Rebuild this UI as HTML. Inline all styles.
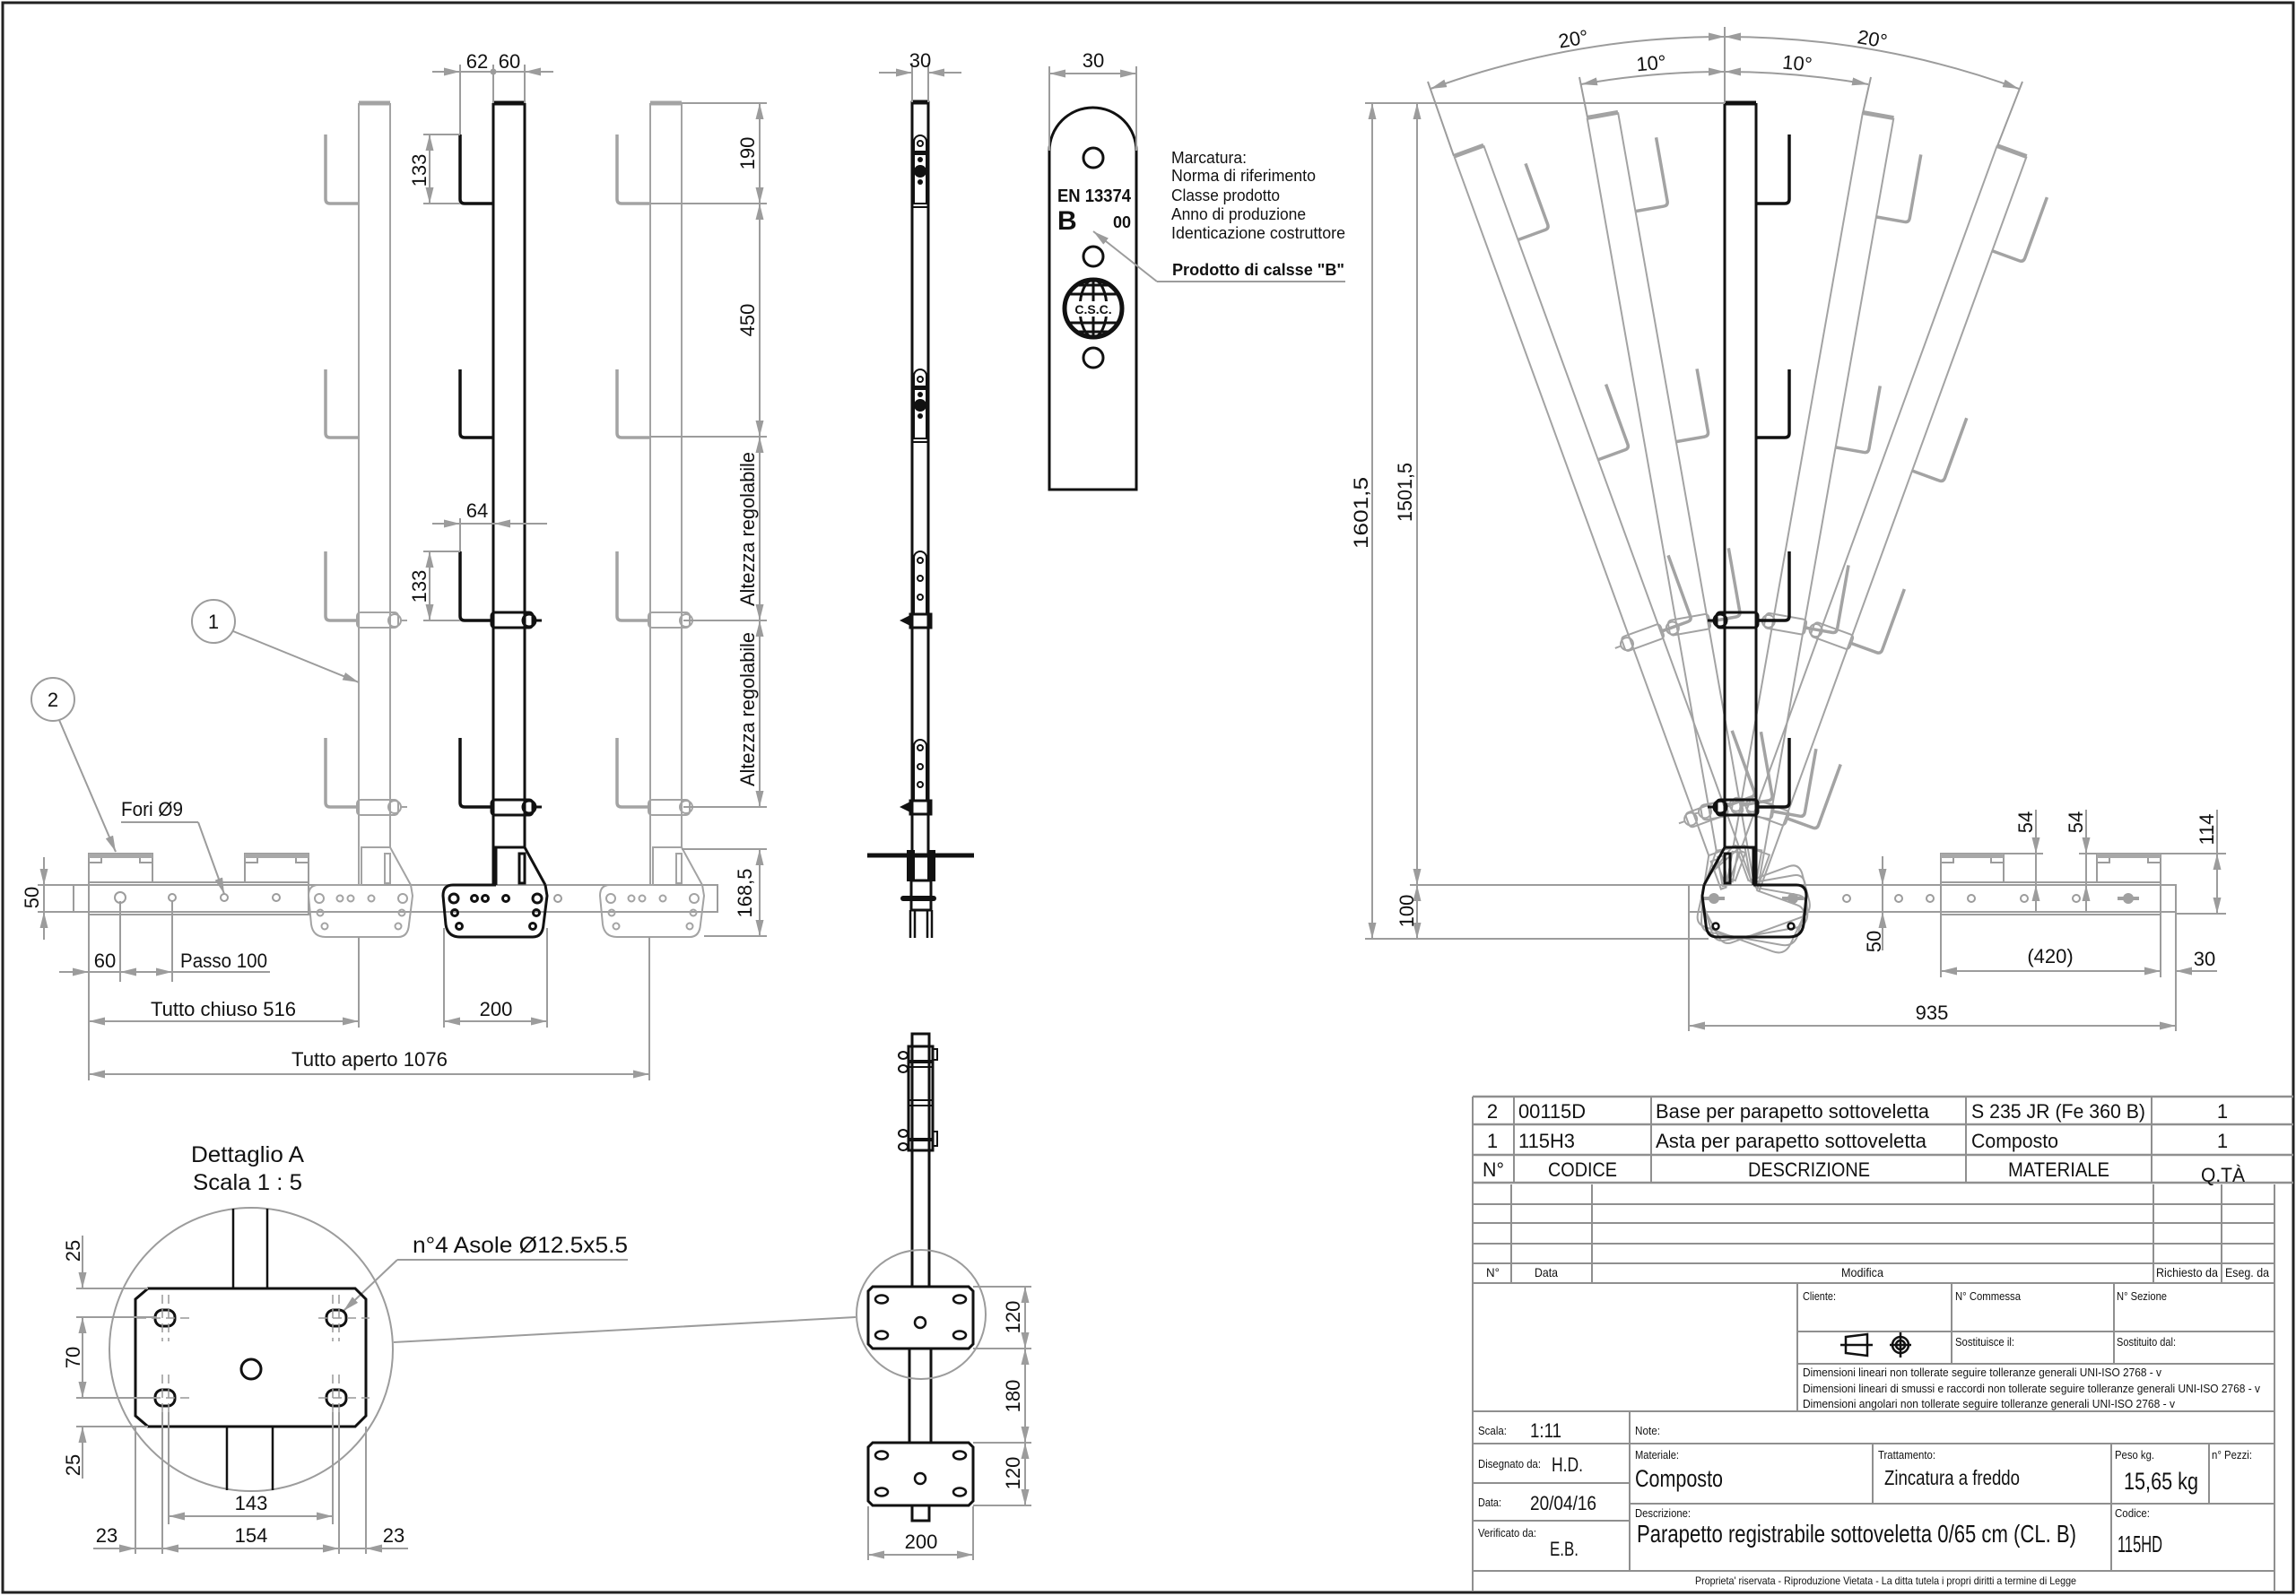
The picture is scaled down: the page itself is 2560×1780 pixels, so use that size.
<!DOCTYPE html>
<html><head><meta charset="utf-8">
<style>
html,body{margin:0;padding:0;background:#fff}
svg{display:block}
text{font-family:"Liberation Sans",Arial,sans-serif;fill:#111}
.d{stroke:#9c9c9c;stroke-width:2;fill:none}
.da{stroke:#9c9c9c;stroke-width:2;fill:none;marker-end:url(#ar)}
.dd{stroke:#9c9c9c;stroke-width:2;fill:none;marker-start:url(#ar);marker-end:url(#ar)}
.k{stroke:#111;stroke-width:3;fill:none}
.tb{stroke:#8f8f8f;stroke-width:2;fill:none}
.s{font-size:13px}
</style></head>
<body>
<svg width="2560" height="1780" viewBox="0 0 2560 1780" xmlns="http://www.w3.org/2000/svg">
<defs>
<marker id="ar" viewBox="0 0 18 9" refX="18" refY="4.5" markerWidth="18" markerHeight="9" markerUnits="userSpaceOnUse" orient="auto-start-reverse"><path d="M0 0L18 4.5L0 9z" fill="#9c9c9c"/></marker>
<g id="unit">
<path d="M0 115V988M35 115V945"/>
<path d="M0 115H35" stroke-width="5"/>
<path d="M3 987V945H35L58 987"/>
<rect x="29" y="952" width="6" height="33"/>
<path d="M3 987H-45Q-56 987 -56 999L-53 1031Q-51 1045 -37 1045H44Q55 1045 56 1031L60 999L58 987"/>
<path d="M-37 150V222Q-37 227 -32 227H0M-37 412V483Q-37 488 -32 488H0M-37 615V687Q-37 692 -32 692H0M-37 823V895Q-37 900 -32 900H0" stroke-width="3.5"/>
<rect x="-2" y="683" width="46" height="17" rx="4"/><circle cx="40" cy="692" r="7"/><path d="M47 692H54"/>
<rect x="-2" y="892" width="46" height="17" rx="4"/><circle cx="40" cy="900" r="7"/><path d="M47 900H54"/>
</g>
<g id="holes">
<circle cx="-44" cy="1002" r="5"/><circle cx="-21" cy="1002" r="3.5"/><circle cx="-9" cy="1002" r="3.5"/><circle cx="14" cy="1002" r="3.5"/><circle cx="49" cy="1002" r="5"/>
<circle cx="-43" cy="1018" r="3.5"/><circle cx="48" cy="1018" r="3.5"/><circle cx="-38" cy="1033" r="3.5"/><circle cx="44" cy="1033" r="3.5"/>
</g>
</defs>

<rect x="3" y="3" width="2554" height="1773" fill="none" stroke="#222" stroke-width="3"/>

<!-- LEFT FRONT VIEW -->
<g class="d">
<rect x="82" y="987" width="718" height="30"/>
<rect x="99" y="984" width="245" height="36"/>
<rect x="99" y="952" width="71" height="32"/>
<rect x="273" y="952" width="71" height="32"/>
<path d="M99 962H113V957M170 962H156V957M273 962H287V957M344 962H330V957"/>
<circle cx="134" cy="1001" r="6"/><circle cx="192" cy="1001" r="4"/><circle cx="250" cy="1001" r="4"/><circle cx="308" cy="1001" r="4"/>
<circle cx="622" cy="1002" r="4"/>
</g>
<rect x="99" y="952" width="71" height="5" fill="#a8a8a8"/>
<rect x="273" y="952" width="71" height="5" fill="#a8a8a8"/>
<g stroke="#a3a3a3" stroke-width="2" fill="none">
<use href="#unit" x="400"/><use href="#holes" x="400"/>
<use href="#unit" x="725"/><use href="#holes" x="725"/>
</g>
<g stroke="#111" stroke-width="3" fill="none">
<use href="#unit" x="550"/><use href="#holes" x="550"/>
</g>

<g class="d">
<path d="M513 72V150M550 72V115M585 72V115M513 578V615M472 150H513M472 227H513M472 615H513M472 692H513"/>
<path d="M513 80H585M513 584H551"/>
<path d="M760 115H855M725 227H855M725 487H855M762 692H855M762 900H855M760 947H855M785 1044H855"/>
<path d="M42 987H82M42 1017H82M49 956V1048"/>
<path d="M99 1017V1205M134 1005V1095M192 1005V1095M400 1045V1146M495 1035V1146M610 1035V1146M724 1045V1205"/>
<path d="M66 1084H301"/>
</g>
<circle cx="550" cy="80" r="3.5" fill="#9c9c9c"/>
<line x1="482" y1="80" x2="513" y2="80" class="da"/>
<line x1="617" y1="80" x2="585" y2="80" class="da"/>
<line x1="482" y1="584" x2="513" y2="584" class="da"/>
<line x1="610" y1="584" x2="551" y2="584" class="da"/>
<line x1="479" y1="150" x2="479" y2="227" class="dd"/>
<line x1="479" y1="615" x2="479" y2="692" class="dd"/>
<line x1="847" y1="115" x2="847" y2="227" class="dd"/>
<line x1="847" y1="227" x2="847" y2="487" class="dd"/>
<line x1="847" y1="487" x2="847" y2="692" class="dd"/>
<line x1="847" y1="692" x2="847" y2="900" class="dd"/>
<line x1="847" y1="947" x2="847" y2="1044" class="dd"/>
<line x1="49" y1="956" x2="49" y2="987" class="da"/>
<line x1="49" y1="1048" x2="49" y2="1017" class="da"/>
<line x1="66" y1="1084" x2="99" y2="1084" class="da"/>
<line x1="170" y1="1084" x2="134" y2="1084" class="da"/>
<line x1="160" y1="1084" x2="192" y2="1084" class="da"/>
<line x1="99" y1="1139" x2="400" y2="1139" class="dd"/>
<line x1="495" y1="1139" x2="610" y2="1139" class="dd"/>
<line x1="99" y1="1198" x2="724" y2="1198" class="dd"/>
<circle cx="238" cy="693" r="24" class="d"/>
<circle cx="59" cy="780" r="24" class="d"/>
<line x1="260" y1="704" x2="400" y2="761" class="da"/>
<line x1="66" y1="803" x2="129" y2="950" class="da"/>
<path d="M135 917H221" class="d"/>
<line x1="221" y1="917" x2="250" y2="997" class="da"/>

<g font-size="22">
<text x="532" y="76" text-anchor="middle">62</text>
<text x="568" y="76" text-anchor="middle">60</text>
<text x="532" y="577" text-anchor="middle">64</text>
<text transform="translate(475 190) rotate(-90)" text-anchor="middle">133</text>
<text transform="translate(475 654) rotate(-90)" text-anchor="middle">133</text>
<text transform="translate(841 171) rotate(-90)" text-anchor="middle">190</text>
<text transform="translate(841 357) rotate(-90)" text-anchor="middle">450</text>
<text transform="translate(841 590) rotate(-90)" text-anchor="middle" textLength="172" lengthAdjust="spacingAndGlyphs">Altezza regolabile</text>
<text transform="translate(841 791) rotate(-90)" text-anchor="middle" textLength="172" lengthAdjust="spacingAndGlyphs">Altezza regolabile</text>
<text transform="translate(838 996) rotate(-90)" text-anchor="middle">168,5</text>
<text transform="translate(43 1001) rotate(-90)" text-anchor="middle">50</text>
<text x="117" y="1079" text-anchor="middle">60</text>
<text x="201" y="1079" textLength="97" lengthAdjust="spacingAndGlyphs">Passo 100</text>
<text x="135" y="910" textLength="69" lengthAdjust="spacingAndGlyphs">Fori Ø9</text>
<text x="168" y="1133" textLength="162" lengthAdjust="spacingAndGlyphs">Tutto chiuso 516</text>
<text x="553" y="1133" text-anchor="middle">200</text>
<text x="325" y="1189" textLength="174" lengthAdjust="spacingAndGlyphs">Tutto aperto 1076</text>
<text x="238" y="701" text-anchor="middle">1</text>
<text x="59" y="788" text-anchor="middle">2</text>
</g>

<!-- SIDE VIEW -->
<g class="k">
<path d="M1017 954V114H1035V954"/>
<path d="M1017 114H1035" stroke-width="5"/>
<path d="M1017 227H1035M1017 231H1035M1017 489H1035M1017 493H1035" stroke-width="2"/>
<path d="M1019 227V158A7 7 0 0 1 1033 158V227M1019 489V419A7 7 0 0 1 1033 419V489" stroke-width="2"/>
<path d="M1019 685V622A7 7 0 0 1 1033 622V685M1019 893V832A7 7 0 0 1 1033 832V893" stroke-width="2"/>
<circle cx="1026" cy="160" r="3" stroke-width="2"/><circle cx="1026" cy="423" r="3" stroke-width="2"/>
<circle cx="1026" cy="625" r="3" stroke-width="2"/><circle cx="1026" cy="645" r="3" stroke-width="2"/><circle cx="1026" cy="666" r="3" stroke-width="2"/>
<circle cx="1026" cy="834" r="3" stroke-width="2"/><circle cx="1026" cy="855" r="3" stroke-width="2"/><circle cx="1026" cy="875" r="3" stroke-width="2"/>
<rect x="1015" y="685" width="23" height="15"/><rect x="1015" y="893" width="23" height="15"/>
<path d="M967 954H1086" stroke-width="5"/>
<rect x="1016" y="982" width="22" height="33"/>
<path d="M1015 1015V1046M1020 1015V1046M1034 1015V1046M1039 1015V1046" stroke-width="2.5"/>
</g>
<g fill="#111">
<rect x="1019" y="168" width="14" height="5"/><circle cx="1026" cy="191" r="7"/><circle cx="1026" cy="178" r="3"/><circle cx="1026" cy="203" r="3"/>
<rect x="1019" y="430" width="14" height="5"/><circle cx="1026" cy="452" r="7"/><circle cx="1026" cy="440" r="3"/><circle cx="1026" cy="464" r="3"/>
<path d="M1003 692L1015 686V698Z"/><path d="M1003 900L1015 894V906Z"/>
<rect x="1011" y="948" width="9" height="35"/><rect x="1034" y="948" width="9" height="35"/>
<rect x="1004" y="999" width="40" height="6" rx="3"/>
</g>
<g class="d"><path d="M1017 70V114M1035 70V114"/></g>
<line x1="980" y1="81" x2="1017" y2="81" class="da"/>
<line x1="1072" y1="81" x2="1035" y2="81" class="da"/>
<text x="1026" y="75" text-anchor="middle" font-size="22">30</text>

<!-- LABEL PLATE -->
<path d="M1170 546V168.5A48.5 48.5 0 0 1 1267 168.5V546Z" class="k"/>
<g class="k">
<circle cx="1219" cy="176" r="11"/><circle cx="1219" cy="286" r="11"/><circle cx="1219" cy="399" r="11"/>
<circle cx="1219" cy="344" r="32" stroke-width="5"/>
<ellipse cx="1219" cy="344" rx="15" ry="32" stroke-width="3"/>
<path d="M1219 312V376M1192 328H1246M1190 360H1248M1200 318H1238M1200 370H1238" stroke-width="3"/>
</g>
<rect x="1197" y="336" width="44" height="17" fill="#fff"/>
<text x="1219" y="350" text-anchor="middle" font-size="14" font-weight="bold">C.S.C.</text>
<text x="1179" y="225" font-size="20" font-weight="bold" textLength="82" lengthAdjust="spacingAndGlyphs">EN 13374</text>
<text x="1179" y="256" font-size="30" font-weight="bold">B</text>
<text x="1241" y="254" font-size="18" font-weight="bold">00</text>
<g class="d"><path d="M1170 74V168M1267 74V168"/></g>
<line x1="1170" y1="82" x2="1267" y2="82" class="dd"/>
<text x="1219" y="75" text-anchor="middle" font-size="22">30</text>
<g font-size="18">
<text x="1306" y="182" textLength="84" lengthAdjust="spacingAndGlyphs">Marcatura:</text>
<text x="1306" y="202" textLength="161" lengthAdjust="spacingAndGlyphs">Norma di riferimento</text>
<text x="1306" y="224" textLength="121" lengthAdjust="spacingAndGlyphs">Classe prodotto</text>
<text x="1306" y="245" textLength="150" lengthAdjust="spacingAndGlyphs">Anno di produzione</text>
<text x="1306" y="266" textLength="194" lengthAdjust="spacingAndGlyphs">Identicazione costruttore</text>
<text x="1307" y="307" font-weight="bold" textLength="192" lengthAdjust="spacingAndGlyphs">Prodotto di calsse "B"</text>
</g>
<path d="M1500 314H1290" class="d"/>
<line x1="1290" y1="314" x2="1219" y2="258" class="da"/>

<!-- FAN VIEW -->
<g class="d">
<rect x="1883" y="987" width="543" height="30"/>
<rect x="2164" y="984" width="245" height="36"/>
<rect x="2164" y="952" width="70" height="32"/>
<rect x="2338" y="952" width="71" height="32"/>
<path d="M2164 962H2178V957M2234 962H2220V957M2338 962H2352V957M2409 962H2395V957"/>
<circle cx="2059" cy="1002" r="4"/><circle cx="2117" cy="1002" r="4"/><circle cx="2152" cy="1002" r="4"/><circle cx="2198" cy="1002" r="4"/><circle cx="2257" cy="1002" r="4"/><circle cx="2315" cy="1002" r="4"/>
</g>
<rect x="2164" y="952" width="70" height="5" fill="#a8a8a8"/>
<rect x="2338" y="952" width="71" height="5" fill="#a8a8a8"/>
<g fill="#a0a0a0"><circle cx="2373" cy="1002" r="6"/><rect x="2361" y="1000" width="24" height="4"/>
<circle cx="1911" cy="1002" r="6"/><rect x="1899" y="1000" width="24" height="4"/>
<circle cx="1999" cy="1002" r="6"/><rect x="1987" y="1000" width="24" height="4"/></g>
<g stroke="#a3a3a3" stroke-width="2" fill="none">
<use href="#unit" transform="rotate(-20 1940 1000) translate(1958 0) scale(-1 1)"/>
<use href="#unit" transform="rotate(-10 1940 1000) translate(1958 0) scale(-1 1)"/>
<use href="#unit" transform="rotate(10 1940 1000) translate(1958 0) scale(-1 1)"/>
<use href="#unit" transform="rotate(20 1940 1000) translate(1958 0) scale(-1 1)"/>
</g>
<use href="#unit" transform="translate(1958 0) scale(-1 1)" stroke="#111" stroke-width="3" fill="none"/>
<g stroke="#111" stroke-width="2.5" fill="none"><circle cx="1913" cy="1033" r="3.5"/><circle cx="1997" cy="1033" r="3.5"/></g>

<g class="d">
<path d="M1923 30V115M1621 174L1592 91M1770 131L1761 86M2077 126L2086 86M2227 163L2255 91"/>
<path d="M1522 115H1923M1572 987H1883M1522 1047H1905"/>
</g>
<path d="M1595 99A959 959 0 0 1 1923 41" class="dd"/>
<path d="M1923 41A959 959 0 0 1 2251 99" class="dd"/>
<path d="M1763 94A920 920 0 0 1 1923 80" class="dd"/>
<path d="M1923 80A920 920 0 0 1 2083 94" class="dd"/>
<g font-size="22">
<text x="1754" y="51" text-anchor="middle" transform="rotate(-10 1754 42)">20°</text>
<text x="1841" y="78" text-anchor="middle" transform="rotate(-5 1841 70)">10°</text>
<text x="2004" y="78" text-anchor="middle" transform="rotate(5 2004 70)">10°</text>
<text x="2088" y="51" text-anchor="middle" transform="rotate(10 2088 42)">20°</text>
</g>
<line x1="1530" y1="115" x2="1530" y2="1047" class="dd"/>
<line x1="1580" y1="115" x2="1580" y2="987" class="dd"/>
<line x1="1580" y1="987" x2="1580" y2="1047" class="dd"/>
<g font-size="22">
<text transform="translate(1525 572) rotate(-90)" text-anchor="middle" textLength="80" lengthAdjust="spacingAndGlyphs">1601,5</text>
<text transform="translate(1574 549) rotate(-90)" text-anchor="middle" textLength="66" lengthAdjust="spacingAndGlyphs">1501,5</text>
<text transform="translate(1576 1016) rotate(-90)" text-anchor="middle">100</text>
</g>
<g class="d">
<path d="M2099 955V1060M2270 903V1017M2326 903V1017M2472 903V1017"/>
<path d="M2234 952H2278M2318 952H2338M2409 952H2482M2426 1019H2482"/>
<path d="M2164 1019V1090M2409 1020V1090M2426 1017V1150M1883 1017V1150"/>
</g>
<line x1="2099" y1="958" x2="2099" y2="987" class="da"/>
<line x1="2099" y1="1057" x2="2099" y2="1017" class="da"/>
<line x1="2270" y1="906" x2="2270" y2="952" class="da"/>
<line x1="2270" y1="1017" x2="2270" y2="987" class="da"/>
<line x1="2326" y1="906" x2="2326" y2="952" class="da"/>
<line x1="2326" y1="1017" x2="2326" y2="987" class="da"/>
<line x1="2472" y1="952" x2="2472" y2="1019" class="dd"/>
<line x1="2164" y1="1083" x2="2409" y2="1083" class="dd"/>
<line x1="2472" y1="1083" x2="2426" y2="1083" class="da"/>
<line x1="1883" y1="1144" x2="2426" y2="1144" class="dd"/>
<g font-size="22">
<text transform="translate(2097 1050) rotate(-90)" text-anchor="middle">50</text>
<text transform="translate(2266 917) rotate(-90)" text-anchor="middle">54</text>
<text transform="translate(2322 917) rotate(-90)" text-anchor="middle">54</text>
<text transform="translate(2468 925) rotate(-90)" text-anchor="middle">114</text>
<text x="2286" y="1074" text-anchor="middle">(420)</text>
<text x="2458" y="1077" text-anchor="middle">30</text>
<text x="2154" y="1137" text-anchor="middle">935</text>
</g>

<!-- DETAIL A -->
<g font-size="25">
<text x="276" y="1296" text-anchor="middle" textLength="126" lengthAdjust="spacingAndGlyphs">Dettaglio A</text>
<text x="276" y="1327" text-anchor="middle" textLength="122" lengthAdjust="spacingAndGlyphs">Scala 1 : 5</text>
<text x="460" y="1397" textLength="240" lengthAdjust="spacingAndGlyphs">n°4 Asole Ø12.5x5.5</text>
</g>
<circle cx="280" cy="1505" r="158" class="d"/>
<path d="M443 1405H700M439 1497L954 1469" class="d"/>
<line x1="443" y1="1405" x2="383" y2="1462" class="da"/>
<g class="k">
<path d="M260 1348V1437M298 1348V1437M253 1591V1662M304 1591V1662" stroke-width="2.5"/>
<path d="M165 1437H396L408 1449V1579L396 1591H165L151 1579V1449Z"/>
<rect x="173" y="1461" width="22" height="18" rx="8"/>
<rect x="364" y="1461" width="22" height="18" rx="8"/>
<rect x="173" y="1550" width="22" height="18" rx="8"/>
<rect x="364" y="1550" width="22" height="18" rx="8"/>
<circle cx="280" cy="1527" r="11"/>
</g>
<g stroke="#999" stroke-width="1.5" fill="none" stroke-dasharray="10 6">
<path d="M153 1470H213M355 1470H412M153 1559H213M355 1559H412"/>
<path d="M181 1444V1496M188 1444V1496M371 1444V1496M378 1444V1496M181 1533V1585M188 1533V1585M371 1533V1585M378 1533V1585"/>
</g>
<g class="d">
<path d="M85 1437H165M85 1469H175M85 1559H175M85 1591H165"/>
<path d="M92 1378V1437M92 1591V1649"/>
<path d="M151 1591V1733M181 1575V1733M188 1575V1700M371 1575V1700M378 1575V1733M408 1591V1733"/>
<path d="M104 1727H455"/>
</g>
<line x1="92" y1="1380" x2="92" y2="1437" class="da"/>
<line x1="92" y1="1647" x2="92" y2="1591" class="da"/>
<line x1="92" y1="1469" x2="92" y2="1559" class="dd"/>
<line x1="188" y1="1691" x2="371" y2="1691" class="dd"/>
<line x1="181" y1="1727" x2="378" y2="1727" class="dd"/>
<line x1="118" y1="1727" x2="151" y2="1727" class="da"/>
<line x1="441" y1="1727" x2="408" y2="1727" class="da"/>
<g font-size="22">
<text transform="translate(89 1395) rotate(-90)" text-anchor="middle">25</text>
<text transform="translate(89 1514) rotate(-90)" text-anchor="middle">70</text>
<text transform="translate(89 1634) rotate(-90)" text-anchor="middle">25</text>
<text x="280" y="1684" text-anchor="middle">143</text>
<text x="280" y="1720" text-anchor="middle">154</text>
<text x="119" y="1720" text-anchor="middle">23</text>
<text x="439" y="1720" text-anchor="middle">23</text>
</g>

<!-- BOTTOM MIDDLE VIEW -->
<g class="k">
<path d="M1017 1435V1153H1036V1435"/>
<rect x="1013" y="1167" width="27" height="116"/>
<path d="M1013 1184H1040M1013 1271H1040" stroke-width="4"/>
<path d="M1013 1190H1040M1013 1227H1040M1013 1233H1040" stroke-width="2"/>
<ellipse cx="1007" cy="1177" rx="5" ry="4" stroke-width="2"/><ellipse cx="1007" cy="1192" rx="5" ry="4" stroke-width="2"/>
<ellipse cx="1007" cy="1264" rx="5" ry="4" stroke-width="2"/><ellipse cx="1007" cy="1279" rx="5" ry="4" stroke-width="2"/>
<rect x="1040" y="1170" width="5" height="12" stroke-width="2"/><rect x="1040" y="1262" width="5" height="16" stroke-width="2"/>
<path d="M973 1435H1080L1085 1440V1499L1080 1504H973L968 1499V1440Z"/>
<path d="M1014 1504V1609M1038 1504V1609"/>
<path d="M973 1609H1080L1085 1614V1674L1080 1679H973L968 1674V1614Z"/>
<path d="M1017 1679V1696H1036V1679"/>
<ellipse cx="983" cy="1449" rx="7" ry="4.5" stroke-width="2.5"/><ellipse cx="1070" cy="1449" rx="7" ry="4.5" stroke-width="2.5"/>
<ellipse cx="983" cy="1489" rx="7" ry="4.5" stroke-width="2.5"/><ellipse cx="1070" cy="1489" rx="7" ry="4.5" stroke-width="2.5"/>
<circle cx="1026" cy="1475" r="6" stroke-width="2.5"/>
<ellipse cx="983" cy="1623" rx="7" ry="4.5" stroke-width="2.5"/><ellipse cx="1070" cy="1623" rx="7" ry="4.5" stroke-width="2.5"/>
<ellipse cx="983" cy="1664" rx="7" ry="4.5" stroke-width="2.5"/><ellipse cx="1070" cy="1664" rx="7" ry="4.5" stroke-width="2.5"/>
<circle cx="1026" cy="1649" r="6" stroke-width="2.5"/>
</g>
<circle cx="1027" cy="1466" r="72" class="d"/>
<g class="d">
<path d="M1085 1435H1150M1085 1504H1150M1085 1609H1150M1085 1679H1150M968 1680V1740M1085 1680V1740"/>
</g>
<line x1="1143" y1="1435" x2="1143" y2="1504" class="dd"/>
<line x1="1143" y1="1504" x2="1143" y2="1609" class="dd"/>
<line x1="1143" y1="1609" x2="1143" y2="1679" class="dd"/>
<line x1="968" y1="1734" x2="1085" y2="1734" class="dd"/>
<g font-size="22">
<text transform="translate(1137 1469) rotate(-90)" text-anchor="middle">120</text>
<text transform="translate(1137 1557) rotate(-90)" text-anchor="middle">180</text>
<text transform="translate(1137 1643) rotate(-90)" text-anchor="middle">120</text>
<text x="1027" y="1727" text-anchor="middle">200</text>
</g>

<!-- TITLE BLOCK -->
<g class="tb">
<path d="M1642 1223H2557M1642 1254H2557M1642 1288H2557M1642 1319H2557" stroke-width="2.5"/>
<path d="M1688 1223V1319M1841 1223V1319M2192 1223V1319M2399 1223V1319"/>
<path d="M1642 1223V1775"/>
<path d="M1642 1343H2536M1642 1364H2536M1642 1387H2536M1642 1409H2536M1642 1431H2536"/>
<path d="M1685 1321V1431M1775 1321V1431M2401 1321V1431M2477 1321V1431M2536 1321V1775"/>
<path d="M2004 1431V1574M2176 1431V1521M2357 1431V1521M2004 1485H2536M2004 1521H2536"/>
<path d="M1642 1574H2536M1642 1610H2536M1817 1677H2536M1642 1654H1817M1642 1696H1817M1642 1752H2536"/>
<path d="M1817 1574V1752M2088 1610V1677M2354 1610V1752M2463 1610V1677"/>
</g>
<g font-size="22">
<text x="1664" y="1247" text-anchor="middle">2</text>
<text x="1693" y="1247" textLength="75" lengthAdjust="spacingAndGlyphs">00115D</text>
<text x="1846" y="1247" textLength="305" lengthAdjust="spacingAndGlyphs">Base per parapetto sottoveletta</text>
<text x="2198" y="1247" textLength="194" lengthAdjust="spacingAndGlyphs">S 235 JR (Fe 360 B)</text>
<text x="2478" y="1247" text-anchor="middle">1</text>
<text x="1664" y="1280" text-anchor="middle">1</text>
<text x="1693" y="1280" textLength="63" lengthAdjust="spacingAndGlyphs">115H3</text>
<text x="1846" y="1280" textLength="302" lengthAdjust="spacingAndGlyphs">Asta per parapetto sottoveletta</text>
<text x="2198" y="1280" textLength="97" lengthAdjust="spacingAndGlyphs">Composto</text>
<text x="2478" y="1280" text-anchor="middle">1</text>
<text x="1653" y="1312" textLength="24" lengthAdjust="spacingAndGlyphs">N°</text>
<text x="1726" y="1312" textLength="77" lengthAdjust="spacingAndGlyphs">CODICE</text>
<text x="1949" y="1312" textLength="136" lengthAdjust="spacingAndGlyphs">DESCRIZIONE</text>
<text x="2239" y="1312" textLength="113" lengthAdjust="spacingAndGlyphs">MATERIALE</text>
<text x="2454" y="1318" textLength="49" lengthAdjust="spacingAndGlyphs">Q.TÀ</text>
</g>
<g font-size="14">
<text x="1657" y="1424" textLength="15" lengthAdjust="spacingAndGlyphs">N°</text>
<text x="1711" y="1424" textLength="26" lengthAdjust="spacingAndGlyphs">Data</text>
<text x="2053" y="1424" textLength="47" lengthAdjust="spacingAndGlyphs">Modifica</text>
<text x="2404" y="1424" textLength="69" lengthAdjust="spacingAndGlyphs">Richiesto da</text>
<text x="2481" y="1424" textLength="49" lengthAdjust="spacingAndGlyphs">Eseg. da</text>
</g>
<g class="s">
<text x="2010" y="1450" textLength="37" lengthAdjust="spacingAndGlyphs">Cliente:</text>
<text x="2180" y="1450" textLength="73" lengthAdjust="spacingAndGlyphs">N° Commessa</text>
<text x="2360" y="1450" textLength="56" lengthAdjust="spacingAndGlyphs">N° Sezione</text>
<text x="2180" y="1501" textLength="66" lengthAdjust="spacingAndGlyphs">Sostituisce il:</text>
<text x="2360" y="1501" textLength="66" lengthAdjust="spacingAndGlyphs">Sostituito dal:</text>
<text x="2010" y="1535" textLength="400" lengthAdjust="spacingAndGlyphs">Dimensioni lineari non tollerate seguire tolleranze generali UNI-ISO 2768 - v</text>
<text x="2010" y="1553" textLength="510" lengthAdjust="spacingAndGlyphs">Dimensioni lineari di smussi e raccordi non tollerate seguire tolleranze generali UNI-ISO 2768 - v</text>
<text x="2010" y="1570" textLength="415" lengthAdjust="spacingAndGlyphs">Dimensioni angolari non tollerate seguire tolleranze generali UNI-ISO 2768 - v</text>
<text x="1648" y="1600" textLength="32" lengthAdjust="spacingAndGlyphs">Scala:</text>
<text x="1823" y="1600" textLength="28" lengthAdjust="spacingAndGlyphs">Note:</text>
<text x="1648" y="1637" textLength="70" lengthAdjust="spacingAndGlyphs">Disegnato da:</text>
<text x="1648" y="1680" textLength="26" lengthAdjust="spacingAndGlyphs">Data:</text>
<text x="1648" y="1714" textLength="65" lengthAdjust="spacingAndGlyphs">Verificato da:</text>
<text x="1823" y="1627" textLength="49" lengthAdjust="spacingAndGlyphs">Materiale:</text>
<text x="2094" y="1627" textLength="64" lengthAdjust="spacingAndGlyphs">Trattamento:</text>
<text x="2358" y="1627" textLength="44" lengthAdjust="spacingAndGlyphs">Peso kg.</text>
<text x="2466" y="1627" textLength="45" lengthAdjust="spacingAndGlyphs">n° Pezzi:</text>
<text x="1823" y="1692" textLength="62" lengthAdjust="spacingAndGlyphs">Descrizione:</text>
<text x="2358" y="1692" textLength="39" lengthAdjust="spacingAndGlyphs">Codice:</text>
<text x="1890" y="1767" font-size="12" textLength="425" lengthAdjust="spacingAndGlyphs">Proprieta' riservata - Riproduzione Vietata - La ditta tutela i propri diritti a termine di Legge</text>
</g>
<g font-size="22">
<text x="1706" y="1603" textLength="35" lengthAdjust="spacingAndGlyphs">1:11</text>
<text x="1730" y="1641" textLength="35" lengthAdjust="spacingAndGlyphs">H.D.</text>
<text x="1706" y="1684" textLength="74" lengthAdjust="spacingAndGlyphs">20/04/16</text>
<text x="1728" y="1735" textLength="32" lengthAdjust="spacingAndGlyphs">E.B.</text>
<text x="1823" y="1658" font-size="27" textLength="98" lengthAdjust="spacingAndGlyphs">Composto</text>
<text x="2101" y="1656" font-size="23" textLength="151" lengthAdjust="spacingAndGlyphs">Zincatura a freddo</text>
<text x="2368" y="1661" font-size="27" textLength="83" lengthAdjust="spacingAndGlyphs">15,65 kg</text>
<text x="1825" y="1720" font-size="28" textLength="490" lengthAdjust="spacingAndGlyphs">Parapetto registrabile sottoveletta 0/65 cm (CL. B)</text>
<text x="2361" y="1731" font-size="26" textLength="50" lengthAdjust="spacingAndGlyphs">115HD</text>
</g>
<g stroke="#111" stroke-width="2.5" fill="none">
<path d="M2058 1491L2082 1488V1512L2058 1509Z"/>
<path d="M2052 1500H2088"/>
<circle cx="2119" cy="1500" r="9"/><circle cx="2119" cy="1500" r="5"/>
<path d="M2119 1486V1514M2107 1500H2131"/>
</g>
</svg>
</body></html>
